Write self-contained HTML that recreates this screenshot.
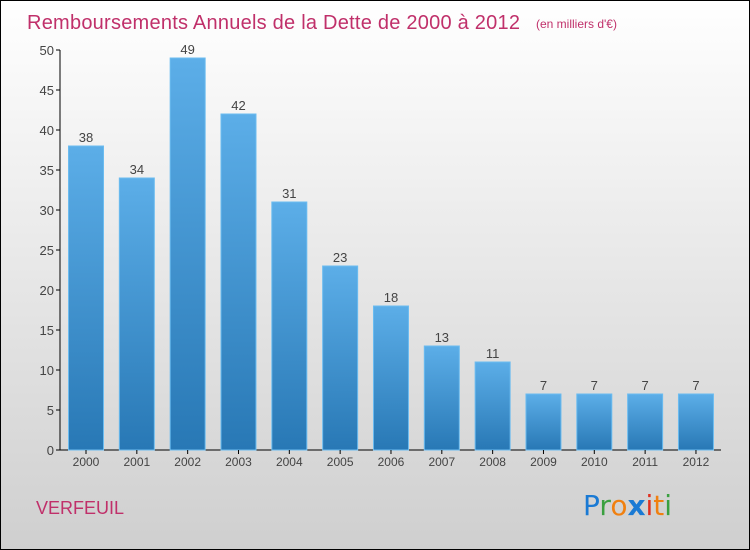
<!DOCTYPE html>
<html><head><meta charset="utf-8"><style>
body{margin:0;width:750px;height:550px;overflow:hidden}
svg{display:block;font-family:"Liberation Sans",sans-serif}
</style></head><body>
<svg width="750" height="550">
<defs>
<linearGradient id="bg" x1="0" y1="0" x2="0" y2="1"><stop offset="0" stop-color="#ffffff"/><stop offset="1" stop-color="#cfcfcf"/></linearGradient>
<linearGradient id="bar" x1="0" y1="0" x2="0" y2="1"><stop offset="0" stop-color="#5caee8"/><stop offset="1" stop-color="#2878b5"/></linearGradient>
</defs>
<rect x="0.5" y="0.5" width="749" height="549" fill="url(#bg)" stroke="#000"/>
<text x="27" y="29" font-size="20" fill="#c0306a" textLength="493">Remboursements Annuels de la Dette de 2000 à 2012</text>
<text x="536" y="28" font-size="12" fill="#c0306a">(en milliers d'€)</text>
<g id="yaxis"></g>
<g id="bars"></g>
<text x="36" y="514" font-size="18" fill="#c0306a">VERFEUIL</text>
<text x="583" y="515" font-size="28" font-family="'DejaVu Sans',sans-serif"><tspan fill="#1a7ad4">P</tspan><tspan fill="#3aa040">r</tspan><tspan fill="#f08010">o</tspan><tspan fill="#1a7ad4" font-weight="bold">x</tspan><tspan fill="#e03020">i</tspan><tspan fill="#f08010">t</tspan><tspan fill="#3aa040">i</tspan></text>
</svg>
<script>
const categories=["2000","2001","2002","2003","2004","2005","2006","2007","2008","2009","2010","2011","2012"];
const values=[38,34,49,42,31,23,18,13,11,7,7,7,7];
const yTicks=[0,5,10,15,20,25,30,35,40,45,50];
const NS="http://www.w3.org/2000/svg";
const y=v=>450-v*8;
const x=i=>86+i*50.83;
function mk(tag,attrs,parent,txt){const e=document.createElementNS(NS,tag);for(const k in attrs)e.setAttribute(k,attrs[k]);if(txt!==undefined)e.textContent=txt;parent.appendChild(e);return e;}
const ya=document.getElementById('yaxis'),bg=document.getElementById('bars');
let l=mk('line',{x1:60,y1:y(50),x2:60,y2:450,stroke:'#000'},ya);


l=mk('line',{x1:60,y1:450,x2:721,y2:450,stroke:'#000'},ya);


yTicks.forEach(t=>{
  const tk=mk('line',{x1:56,y1:y(t),x2:60,y2:y(t),stroke:'#000'},ya);
  
  
  const tl=mk('text',{x:54,y:y(t)+5,'font-size':13,fill:'#444','text-anchor':'end'},ya,String(t));
  
  
});
categories.forEach((c,i)=>{
  const cx=x(i),v=values[i];
  const r=mk('rect',{x:cx-17.5,y:y(v),width:35,height:450-y(v),fill:'url(#bar)',stroke:'#6bbcf0','stroke-width':1},bg);
  
  
  const vl=mk('text',{x:cx,y:y(v)-4,'font-size':13,fill:'#444','text-anchor':'middle'},bg,String(v));
  
  
  const tk=mk('line',{x1:cx,y1:450,x2:cx,y2:454,stroke:'#000'},bg);
  
  
  const xl=mk('text',{x:cx,y:466,'font-size':12,fill:'#444','text-anchor':'middle'},bg,c);
  
  
});
</script>
</body></html>
